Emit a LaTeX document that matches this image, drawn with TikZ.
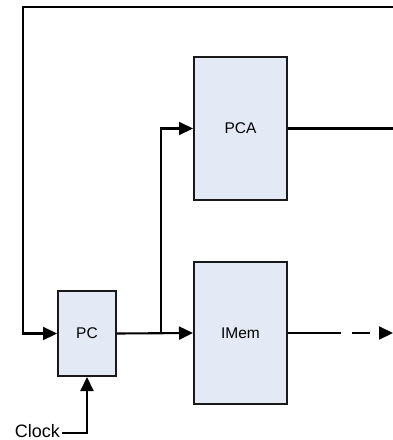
\documentclass[tikz,border=0pt]{standalone}
\usepackage{fontspec}
\setmainfont{Liberation Sans}
\usetikzlibrary{arrows.meta}
\definecolor{boxfill}{RGB}{228,234,245}
\begin{document}
\begin{tikzpicture}[x=1pt,y=-1pt,
  blk/.style={draw=black!90,fill=boxfill,line width=2pt,font=\fontsize{15.5}{18}\selectfont,inner sep=0pt},
  wire/.style={line width=2.1pt},
  arr/.style={wire,-{Triangle[length=14pt,width=13pt]}}]
\useasboundingbox (0,0) rectangle (393,440);
\node[blk,minimum width=58pt,minimum height=85pt] (pc) at (87,333.5) {PC};
\node[blk,minimum width=93pt,minimum height=143pt] (pca) at (240.5,128.5) {PCA};
\node[blk,minimum width=93pt,minimum height=142pt] (imem) at (240.5,333) {IMem};
\coordinate (tr) at (393,7);
\coordinate (tl) at (23,7);
\coordinate (br) at (161,333);
\coordinate (pcaout) at (393,128.5);
\coordinate (imout) at (393,333);
\coordinate (clk) at (62,433);
\node[anchor=base east,inner sep=1pt,font=\fontsize{18}{20}\selectfont] (clocklbl) at (61,437) {Clock};
\draw[arr] (tr) -- (tl) |- (pc.west);
\draw[arr] (pc.east) -- (imem.west);
\draw[arr] (br) |- (pca.west);
\draw[wire] (pca.east) -- (pcaout);
\draw[arr,dash pattern=on 53pt off 11pt on 18pt off 11pt on 30pt] (imem.east) -- (imout);
\draw[arr] (clk) -| (pc.south);
\end{tikzpicture}
\end{document}
